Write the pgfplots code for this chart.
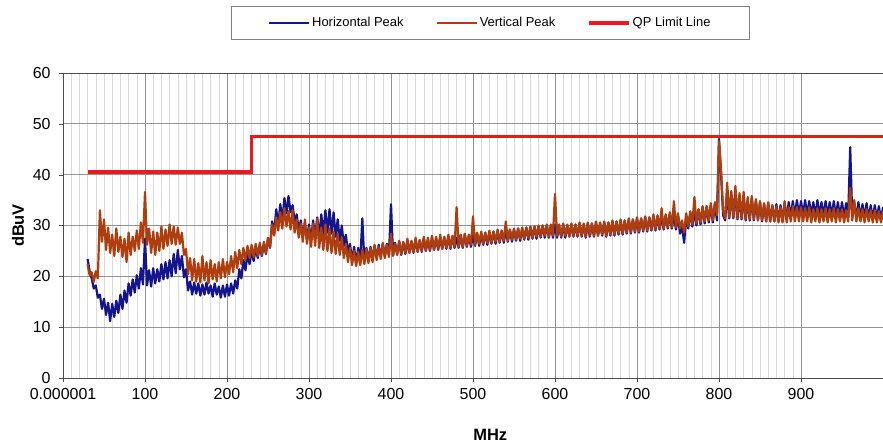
\documentclass[border=0pt]{standalone}
\usepackage{fontspec}
\setmainfont{Liberation Sans}
\usepackage{pgfplots}
\usepackage{pgfplotstable}
\pgfplotsset{compat=1.18}
\definecolor{hblue}{RGB}{20,20,140}
\definecolor{vbrown}{RGB}{175,62,14}
\definecolor{qpred}{RGB}{235,25,30}

% f [MHz], H = horizontal peak, V = vertical peak [dBuV]
\pgfplotstableread{
f H V
30 23.4 22.4
32.5 21.0 20.2
35 19.6 20.8
37.5 17.6 18.9
40 18.2 21.0
42.5 15.8 19.6
45 16.4 33.0
47.5 13.6 26.8
50 15.6 31.2
52.5 12.4 25.2
55 14.8 29.6
57.5 11.2 24.6
60 14.6 28.2
62.5 12.0 24.0
65 15.2 29.4
67.5 12.8 24.8
70 16.4 27.8
72.5 13.6 23.8
75 17.2 27.4
77.5 14.8 22.8
80 18.6 28.6
82.5 16.2 24.2
85 19.4 27.8
87.5 16.8 25.0
90 20.2 29.0
92.5 17.6 25.4
95 21.6 30.6
97.5 18.4 26.6
100 27.4 36.6
102.5 18.2 26.2
105 21.2 29.4
107.5 18.0 24.6
110 21.6 28.8
112.5 18.6 24.2
115 21.4 28.6
117.5 19.0 25.0
120 22.4 29.8
122.5 19.4 25.4
125 22.8 29.2
127.5 19.6 26.0
130 23.2 30.2
132.5 20.0 26.4
135 24.4 29.8
137.5 20.6 26.2
140 25.2 29.6
142.5 21.4 26.4
145 24.0 28.6
147.5 19.8 24.2
150 21.4 25.4
152.5 17.2 20.4
155 19.0 23.6
157.5 16.4 19.2
160 18.8 23.4
162.5 16.6 19.0
165 18.6 22.6
167.5 16.2 18.8
170 18.4 24.0
172.5 16.4 19.2
175 18.8 22.8
177.5 16.6 18.6
180 18.2 23.2
182.5 16.0 19.4
185 18.6 22.4
187.5 16.4 19.0
190 18.0 22.8
192.5 15.8 19.6
195 18.2 23.4
197.5 16.0 19.8
200 18.4 22.8
202.5 16.2 20.4
205 18.6 24.0
207.5 16.6 20.8
210 19.2 24.8
212.5 17.6 21.6
215 21.4 25.2
217.5 19.6 22.4
220 23.2 25.6
222.5 21.2 23.2
225 24.4 26.0
227.5 22.4 23.6
230 25.2 26.2
232.5 23.0 23.8
235 25.4 26.4
237.5 23.6 24.0
240 26.0 26.6
242.5 24.0 24.2
245 26.4 26.8
247.5 24.4 24.6
250 27.4 27.6
252.5 25.6 25.8
255 30.8 30.2
257.5 28.4 28.0
260 33.2 31.6
262.5 30.2 29.0
265 34.2 32.6
267.5 31.0 29.4
270 35.4 33.4
272.5 32.4 29.8
275 35.8 32.8
277.5 32.6 29.2
280 34.0 33.0
282.5 30.8 28.6
285 32.2 31.2
287.5 29.0 27.6
290 31.0 30.4
292.5 27.8 26.8
295 30.4 31.2
297.5 27.2 26.4
300 30.2 29.6
302.5 27.0 25.8
305 31.0 30.4
307.5 27.4 26.0
310 31.6 31.4
312.5 27.8 25.6
315 32.2 29.6
317.5 28.2 25.2
320 33.0 30.2
322.5 28.6 25.0
325 33.2 29.4
327.5 28.4 24.6
330 32.6 28.8
332.5 27.8 24.4
335 31.2 28.4
337.5 27.0 24.2
340 30.0 27.6
342.5 26.0 23.6
345 28.2 26.4
347.5 24.6 22.8
350 26.4 25.6
352.5 23.0 22.2
355 25.8 25.0
357.5 22.6 22.0
360 25.6 24.8
362.5 22.8 22.2
365 31.4 25.2
367.5 23.0 22.4
370 25.6 25.4
372.5 23.2 22.6
375 25.8 25.6
377.5 23.4 22.8
380 26.0 26.2
382.5 23.6 23.2
385 26.2 25.8
387.5 23.8 23.4
390 26.4 26.6
392.5 24.0 23.6
395 26.4 26.2
397.5 24.2 23.8
400 34.2 28.4
402.5 24.2 24.0
405 26.6 26.4
407.5 24.4 24.2
410 26.8 27.0
412.5 24.2 24.4
415 26.6 26.8
417.5 24.4 24.6
420 27.0 27.4
422.5 24.6 24.6
425 26.8 27.0
427.5 24.6 24.8
430 27.2 27.6
432.5 24.8 24.8
435 27.0 27.2
437.5 24.8 25.0
440 27.4 27.8
442.5 25.0 25.0
445 27.2 27.6
447.5 25.0 25.2
450 27.6 28.0
452.5 25.2 25.2
455 27.4 27.8
457.5 25.2 25.4
460 27.6 28.2
462.5 25.4 25.4
465 27.6 27.8
467.5 25.4 25.6
470 27.8 28.2
472.5 25.4 25.6
475 27.8 28.0
477.5 25.6 25.8
480 27.6 33.6
482.5 25.6 25.8
485 28.0 28.2
487.5 25.6 25.8
490 28.2 28.4
492.5 25.8 26.0
495 28.0 28.2
497.5 25.8 26.2
500 28.2 31.8
502.5 26.0 26.2
505 28.4 28.6
507.5 26.0 26.4
510 28.4 28.8
512.5 26.2 26.4
515 28.6 28.6
517.5 26.2 26.6
520 28.6 29.0
522.5 26.4 26.6
525 28.8 28.8
527.5 26.4 26.8
530 28.8 29.2
532.5 26.6 26.8
535 29.0 29.0
537.5 26.6 27.0
540 29.0 30.8
542.5 26.8 27.0
545 29.2 29.2
547.5 26.8 27.2
550 29.2 29.4
552.5 27.0 27.2
555 29.4 29.4
557.5 27.0 27.4
560 29.4 29.6
562.5 27.2 27.4
565 29.6 29.6
567.5 27.2 27.6
570 29.6 29.8
572.5 27.4 27.6
575 29.8 29.8
577.5 27.4 27.8
580 29.8 30.0
582.5 27.6 27.8
585 30.0 30.0
587.5 27.6 28.0
590 30.0 30.2
592.5 27.6 27.8
595 30.0 30.2
597.5 27.6 28.0
600 30.2 36.2
602.5 27.6 28.0
605 30.0 30.2
607.5 27.6 27.8
610 30.2 30.4
612.5 27.6 28.0
615 30.0 30.2
617.5 27.8 27.8
620 30.2 30.4
622.5 27.8 28.0
625 30.2 30.2
627.5 27.8 28.0
630 30.4 30.6
632.5 27.8 28.0
635 30.2 30.4
637.5 27.6 27.8
640 30.4 30.6
642.5 27.8 28.0
645 30.4 30.4
647.5 27.8 28.0
650 30.6 30.8
652.5 28.0 28.0
655 30.4 30.6
657.5 28.0 28.2
660 30.6 30.8
662.5 27.8 28.0
665 30.6 30.6
667.5 28.0 28.2
670 30.8 31.0
672.5 28.0 28.2
675 30.8 30.8
677.5 28.2 28.4
680 31.0 31.2
682.5 28.2 28.4
685 31.0 31.0
687.5 28.4 28.6
690 31.2 31.4
692.5 28.4 28.6
695 31.2 31.2
697.5 28.6 28.8
700 31.4 31.6
702.5 28.6 28.8
705 31.4 31.4
707.5 28.8 29.0
710 31.6 31.8
712.5 28.8 29.0
715 31.6 31.6
717.5 29.0 29.2
720 31.8 32.2
722.5 29.0 29.2
725 31.8 32.0
727.5 29.2 29.4
730 32.0 33.4
732.5 29.2 29.4
735 32.0 32.2
737.5 29.4 29.6
740 32.2 32.6
742.5 29.4 29.6
745 32.0 34.8
747.5 29.2 29.6
750 31.8 32.4
752.5 28.4 29.4
755 29.8 31.0
757.5 26.6 28.6
760 31.8 32.4
762.5 29.4 29.8
765 32.6 32.8
767.5 29.8 30.2
770 33.0 35.6
772.5 30.0 30.4
775 33.2 33.2
777.5 30.2 30.6
780 33.6 33.8
782.5 30.4 30.8
785 33.8 33.8
787.5 30.6 31.0
790 34.0 34.4
792.5 30.6 31.0
795 34.2 34.6
797.5 31.0 32.0
800 47.0 46.6
802.5 40.0 41.0
805 32.0 33.0
807.5 31.0 31.4
810 36.8 38.4
812.5 31.4 31.6
815 36.2 36.8
817.5 31.4 31.6
820 36.6 37.8
822.5 31.2 31.4
825 35.6 36.4
827.5 31.2 31.4
830 35.8 36.6
832.5 31.0 31.2
835 35.0 35.6
837.5 31.0 31.2
840 35.4 35.8
842.5 31.0 31.2
845 34.8 35.2
847.5 31.0 31.0
850 34.6 34.8
852.5 30.8 31.0
855 34.2 34.4
857.5 30.8 30.8
860 34.4 34.6
862.5 30.8 30.8
865 34.0 34.0
867.5 30.8 30.8
870 34.2 33.8
872.5 30.8 30.6
875 34.0 33.6
877.5 30.8 30.6
880 34.4 34.8
882.5 31.2 30.6
885 34.6 33.6
887.5 31.6 30.8
890 34.8 33.8
892.5 31.8 30.8
895 35.0 33.6
897.5 32.0 30.8
900 34.8 33.6
902.5 32.0 30.8
905 35.0 33.4
907.5 32.0 30.8
910 34.8 33.6
912.5 32.0 30.6
915 34.6 33.2
917.5 31.8 30.8
920 35.0 33.4
922.5 31.8 30.6
925 34.6 33.2
927.5 31.8 30.8
930 34.8 33.4
932.5 31.8 30.6
935 34.6 33.2
937.5 31.8 30.8
940 34.8 33.4
942.5 31.8 30.6
945 34.6 33.2
947.5 31.6 30.8
950 34.6 33.2
952.5 31.6 30.6
955 34.4 33.0
957.5 31.6 30.8
960 45.4 37.4
962.5 31.6 31.0
965 34.4 35.0
967.5 31.4 30.8
970 34.6 33.4
972.5 31.4 30.8
975 34.2 33.2
977.5 31.4 30.6
980 34.4 33.2
982.5 31.2 30.8
985 34.0 33.0
987.5 31.2 30.6
990 34.0 33.0
992.5 31.2 30.6
995 33.8 32.8
997.5 31.0 30.6
1000 33.6 32.8
}\scan

\begin{document}
\begin{tikzpicture}
\useasboundingbox (0,0) rectangle (883bp,445bp);
\begin{axis}[
    at={(63bp,67bp)}, anchor=south west,
    scale only axis,
    width=820bp, height=305bp,
    xmin=0, xmax=1000,
    ymin=0, ymax=60,
    xtick={0,100,...,900},
    xticklabels={0.000001,100,200,300,400,500,600,700,800,900},
    ytick={0,10,...,60},
    minor x tick num=9,
    xmajorgrids, ymajorgrids, xminorgrids,
    major grid style={gray!85, line width=0.8bp},
    minor grid style={gray!30, line width=0.6bp},
    axis line style={gray!60!black, line width=0.8bp},
    tick style={gray!60!black},
    tick align=outside,
    major tick length=4bp, minor tick length=0pt,
    tick pos=left,
    ticklabel style={font=\fontsize{16}{19}\selectfont},
    xticklabel style={yshift=-3bp},
    yticklabel style={xshift=-5bp},
    /pgf/number format/assume math mode=true,
    xlabel={\textbf{MHz}},
    ylabel={\textbf{dBuV}},
    xlabel style={at={(axis description cs:0.521,0)}, anchor=center,
                  yshift=-57bp, font=\fontsize{16.5}{19}\selectfont},
    ylabel style={at={(axis description cs:-0.055,0.5)}, anchor=center,
                  font=\fontsize{16.5}{19}\selectfont},
    legend columns=3,
    legend style={at={(0.521,1.164)}, anchor=center,
                  draw=gray, line width=0.8bp,
                  font=\fontsize{13}{15}\selectfont,
                  inner xsep=37bp, inner ysep=9bp,
                  /tikz/every even column/.append style={column sep=30bp}},
    legend image code/.code={\draw[#1] (0bp,0bp) -- (40bp,0bp);},
]
\addplot[hblue, line width=2.2bp, line join=round] table[x=f, y=H] {\scan};
\addlegendentry{Horizontal Peak}
\addplot[vbrown, line width=2.2bp, line join=round] table[x=f, y=V] {\scan};
\addlegendentry{Vertical Peak}
\addplot[qpred, line width=3.4bp] coordinates {
    (30,40.5) (230,40.5) (230,47.5) (1000,47.5)
};
\addlegendentry{QP Limit Line}
\end{axis}
\end{tikzpicture}
\end{document}
